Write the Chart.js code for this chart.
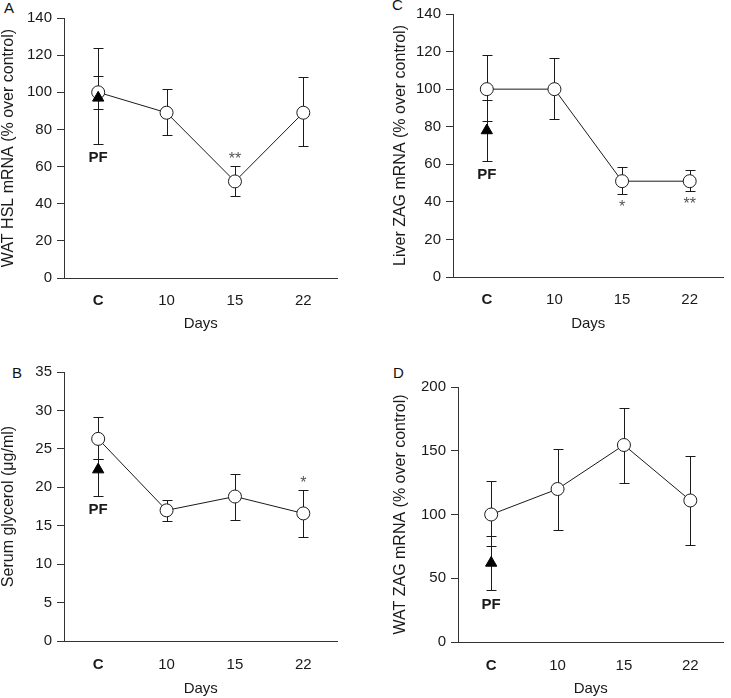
<!DOCTYPE html>
<html>
<head>
<meta charset="utf-8">
<script src="https://cdn.jsdelivr.net/npm/chart.js@4.4.1/dist/chart.umd.min.js"></script>
<style>
body { margin: 0; background: #fff; width: 731px; height: 698px; position: relative; overflow: hidden; }
.panel { position: absolute; }
.lab { position: absolute; font: 15px "Liberation Sans", Arial, sans-serif; color: #111; }
</style>
</head>
<body>
<div class="lab" style="left:4px;top:-1px">A</div>
<div class="lab" style="left:392px;top:-4px">C</div>
<div class="lab" style="left:12px;top:364px">B</div>
<div class="lab" style="left:393px;top:364px">D</div>

<div class="panel" style="left:0;top:0"><canvas id="cA" width="345" height="340"></canvas></div>
<div class="panel" style="left:392px;top:0"><canvas id="cC" width="339" height="340"></canvas></div>
<div class="panel" style="left:0;top:355px"><canvas id="cB" width="345" height="343"></canvas></div>
<div class="panel" style="left:392px;top:355px"><canvas id="cD" width="339" height="343"></canvas></div>

<script>
const days = ['C', '10', '15', '22'];

// A - WAT HSL mRNA
const hslMean = [100, 89, 52, 89];
const hslHigh = [124, 102, 60.5, 108];
const hslLow = [72, 77, 44, 71];
const hslPF = 97, hslPFHigh = 109, hslPFLow = 91;
const hslStars = ['', '', '**', ''];

// C - Liver ZAG mRNA
const liverMean = [100, 100, 51, 51];
const liverHigh = [118, 116.5, 58.5, 57];
const liverLow = [83, 84, 44, 46];
const liverPF = 78, liverPFHigh = 94, liverPFLow = 62;
const liverStars = ['', '', '*', '**'];

// B - serum glycerol
const glyMean = [26.3, 17, 18.8, 16.6];
const glyHigh = [29.1, 18.4, 21.7, 19.7];
const glyLow = [23.7, 15.6, 15.8, 13.5];
const glyPF = 22.3, glyPFHigh = 23.7, glyPFLow = 18.9;
const glyStars = ['', '', '', '*'];

// D - WAT ZAG mRNA
const watZagMean = [100, 120, 154.5, 111];
const watZagHigh = [126, 151, 183.5, 146];
const watZagLow = [75, 88, 124.5, 76];
const watZagPF = 62, watZagPFHigh = 83.5, watZagPFLow = 40.5;
const watZagStars = ['', '', '', ''];

const FONT = '"Liberation Sans", Arial, sans-serif';
const INK = '#1a1a1a';

// error bars + PF label + stars
const errorBars = {
    id: 'errorBars',
    beforeDatasetsDraw(chart, args, o) {
        const ctx = chart.ctx, x = chart.scales.x, y = chart.scales.y;
        ctx.save();
        ctx.strokeStyle = INK;
        ctx.lineWidth = 1;
        o.bars.forEach(b => {
            const px = Math.round(x.getPixelForValue(b.i)) + 0.5;
            const top = Math.round(y.getPixelForValue(b.hi)) + 0.5;
            const bot = Math.round(y.getPixelForValue(b.lo)) + 0.5;
            ctx.beginPath();
            ctx.moveTo(px, top); ctx.lineTo(px, bot);
            ctx.moveTo(px - 5, top); ctx.lineTo(px + 5, top);
            ctx.moveTo(px - 5, bot); ctx.lineTo(px + 5, bot);
            ctx.stroke();
        });
        ctx.restore();
    },
    afterDatasetsDraw(chart, args, o) {
        const ctx = chart.ctx, x = chart.scales.x, y = chart.scales.y;
        ctx.save();
        ctx.textAlign = 'center';
        // PF under the lowest bar at C
        const lowest = Math.min(...o.bars.filter(b => b.i === 0).map(b => b.lo));
        ctx.font = 'bold 15px ' + FONT;
        ctx.fillStyle = INK;
        ctx.textBaseline = 'middle';
        ctx.fillText('PF', x.getPixelForValue(0), y.getPixelForValue(lowest) + 14);
        // stars
        ctx.font = '16px ' + FONT;
        ctx.fillStyle = '#555';
        ctx.textBaseline = 'alphabetic';
        o.stars.forEach((s, i) => {
            if (!s) return;
            const b = o.bars.find(bb => bb.i === i && !bb.pf);
            const px = x.getPixelForValue(i);
            if (o.starsBelow) ctx.fillText(s, px, y.getPixelForValue(b.lo) + 18);
            else ctx.fillText(s, px, y.getPixelForValue(b.hi) - 2);
        });
        ctx.restore();
    }
};

function makePanel(id, p) {
    const bars = p.mean.map((m, i) => ({ i: i, hi: p.high[i], lo: p.low[i] }));
    bars.push({ i: 0, hi: p.pfHigh, lo: p.pfLow, pf: true });
    return new Chart(document.getElementById(id), {
        type: 'line',
        data: {
            labels: days,
            datasets: [
                {
                    data: [p.pf, null, null, null],
                    showLine: false,
                    pointStyle: 'triangle',
                    pointRadius: 6.5,
                    pointBackgroundColor: '#000',
                    pointBorderColor: '#000',
                    pointBorderWidth: 1
                },
                {
                    data: p.mean,
                    borderColor: INK,
                    borderWidth: 1,
                    pointStyle: 'circle',
                    pointRadius: 6.5,
                    pointBackgroundColor: '#fff',
                    pointBorderColor: INK,
                    pointBorderWidth: 1
                }
            ]
        },
        options: {
            responsive: false,
            animation: false,
            layout: { padding: { top: p.padTop, right: p.padRight, left: 0, bottom: 0 } },
            scales: {
                x: {
                    type: 'category',
                    offset: true,
                    grid: { display: false, drawTicks: false },
                    border: { display: true, color: '#333', width: 1 },
                    ticks: {
                        color: INK,
                        padding: p.tickPad,
                        font: c => ({ family: FONT, size: 15, weight: c.index === 0 ? 'bold' : 'normal' })
                    },
                    title: { display: true, text: 'Days', color: INK, font: { family: FONT, size: 15 }, padding: { top: 0, bottom: p.daysPad } },
                    afterFit: s => { s.height = p.xh; }
                },
                y: {
                    min: p.min, max: p.max,
                    ticks: { stepSize: p.step, color: INK, padding: 5, font: { family: FONT, size: 15 } },
                    grid: { drawOnChartArea: false, drawTicks: true, tickLength: 7, color: '#333' },
                    border: { display: true, color: '#333', width: 1 },
                    title: { display: true, text: p.title, color: INK, font: { family: FONT, size: 16 }, padding: { top: -1, bottom: 0 } },
                    afterFit: s => { s.width = p.yw; }
                }
            },
            plugins: {
                legend: { display: false },
                tooltip: { enabled: false },
                errorBars: { bars: bars, stars: p.stars, starsBelow: p.starsBelow }
            }
        },
        plugins: [errorBars]
    });
}

makePanel('cA', {
    mean: hslMean, high: hslHigh, low: hslLow,
    pf: hslPF, pfHigh: hslPFHigh, pfLow: hslPFLow, stars: hslStars, starsBelow: false,
    min: 0, max: 140, step: 20, title: 'WAT HSL mRNA (% over control)',
    yw: 64, xh: 62, padTop: 18, padRight: 2, tickPad: 14, daysPad: 7
});
makePanel('cC', {
    mean: liverMean, high: liverHigh, low: liverLow,
    pf: liverPF, pfHigh: liverPFHigh, pfLow: liverPFLow, stars: liverStars, starsBelow: true,
    min: 0, max: 140, step: 20, title: 'Liver ZAG mRNA (% over control)',
    yw: 61, xh: 63, padTop: 10, padRight: 1, tickPad: 14, daysPad: 7
});
makePanel('cB', {
    mean: glyMean, high: glyHigh, low: glyLow,
    pf: glyPF, pfHigh: glyPFHigh, pfLow: glyPFLow, stars: glyStars, starsBelow: false,
    min: 0, max: 35, step: 5, title: 'Serum glycerol (μg/ml)',
    yw: 64, xh: 57, padTop: 17, padRight: 3, tickPad: 15, daysPad: 0
});
makePanel('cD', {
    mean: watZagMean, high: watZagHigh, low: watZagLow,
    pf: watZagPF, pfHigh: watZagPFHigh, pfLow: watZagPFLow, stars: watZagStars, starsBelow: false,
    min: 0, max: 200, step: 50, title: 'WAT ZAG mRNA (% over control)',
    yw: 66, xh: 56, padTop: 32, padRight: 1, tickPad: 15, daysPad: 0
});
</script>
</body>
</html>
